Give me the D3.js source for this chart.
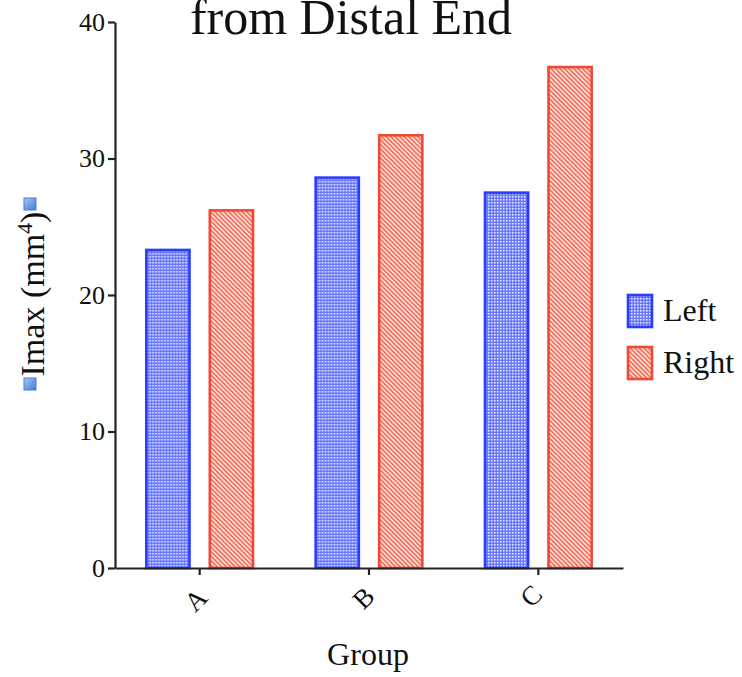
<!DOCTYPE html>
<html>
<head>
<meta charset="utf-8">
<script src="https://cdn.jsdelivr.net/npm/d3@7"></script>
<style>
  body { margin: 0; background: #fff; }
  text { font-family: "Liberation Serif", "Times New Roman", serif; fill: #111; }
</style>
</head>
<body>
<svg id="chart" width="742" height="677"></svg>
<script>
// data
var groups = ["A", "B", "C"];
var sides = ["Left", "Right"];
var leftValues = [23.3, 28.6, 27.5];
var rightValues = [26.2, 31.7, 36.7];
var yTicks = [0, 10, 20, 30, 40];

//margins / plot area
var margin = {top: 22, right: 119, bottom: 109, left: 115},
  width = 742 - margin.left - margin.right,
  height = 677 - margin.top - margin.bottom;

var svg = d3.select("#chart");
var defs = svg.append("defs");

// dotted blue fill
var dots = defs.append("pattern")
  .attr("id", "dots")
  .attr("width", 3).attr("height", 3)
  .attr("patternUnits", "userSpaceOnUse");
dots.append("rect").attr("width", 3).attr("height", 3).attr("fill", "#6a78ff");
dots.append("rect").attr("width", 1.5).attr("height", 1.5).attr("fill", "#eef0ff");

// hatched red fill
var hatch = defs.append("pattern")
  .attr("id", "hatch")
  .attr("width", 3.2).attr("height", 10)
  .attr("patternUnits", "userSpaceOnUse")
  .attr("patternTransform", "rotate(-45)");
hatch.append("rect").attr("width", 3.2).attr("height", 10).attr("fill", "#fde3dc");
hatch.append("rect").attr("width", 1.7).attr("height", 10).attr("fill", "#f2725f");

var fills = {Left: "url(#dots)", Right: "url(#hatch)"};
var strokes = {Left: "#2b3dfa", Right: "#ef4a36"};

var data = groups.map(function(g, i) {
  return {group: g, values: [{side: "Left", v: leftValues[i]}, {side: "Right", v: rightValues[i]}]};
});

var g = svg.append("g").attr("transform", "translate(" + margin.left + "," + margin.top + ")");

var x0 = d3.scaleBand().domain(groups).range([0, width]).paddingInner(0.37).paddingOuter(0.185);
var x1 = d3.scaleBand().domain(sides).range([0, x0.bandwidth()]).paddingInner(0.32);
var y = d3.scaleLinear().domain([0, 40]).range([height, 0]);

// bars
g.selectAll(".grp")
  .data(data)
  .enter().append("g")
  .attr("class", "grp")
  .attr("transform", function(d) { return "translate(" + x0(d.group) + ",0)"; })
  .selectAll("rect")
  .data(function(d) { return d.values; })
  .enter().append("rect")
  .attr("x", function(d) { return x1(d.side); })
  .attr("width", x1.bandwidth())
  .attr("y", function(d) { return y(d.v); })
  .attr("height", function(d) { return height - y(d.v); })
  .attr("fill", function(d) { return fills[d.side]; })
  .attr("stroke", function(d) { return strokes[d.side]; })
  .attr("stroke-width", 2.6);

// y axis
var yAxis = g.append("g")
  .call(d3.axisLeft(y).tickValues(yTicks).tickSize(7).tickSizeOuter(0).tickPadding(3));
yAxis.select(".domain").attr("stroke", "#222").attr("stroke-width", 2.2);
yAxis.selectAll(".tick line").attr("stroke", "#222").attr("stroke-width", 2.2);
yAxis.selectAll("text").style("font-size", "26px").style("font-family", "Liberation Serif, serif").attr("fill", "#111");

// x axis
var xAxis = g.append("g")
  .attr("transform", "translate(0," + height + ")")
  .call(d3.axisBottom(x0).tickSize(7).tickSizeOuter(0).tickFormat(""));
xAxis.select(".domain").attr("stroke", "#222").attr("stroke-width", 2.2);
xAxis.selectAll(".tick line").attr("stroke", "#222").attr("stroke-width", 2.2);

// rotated group labels
g.selectAll(".xlab")
  .data(groups)
  .enter().append("text")
  .attr("class", "xlab")
  .attr("transform", function(d, i) { return "translate(" + (x0(d) + x0.bandwidth() / 2 - 4 - i * 1.5) + "," + (height + 32 - i * 2) + ") rotate(-45)"; })
  .attr("text-anchor", "middle")
  .attr("dominant-baseline", "central")
  .style("font-size", "27px")
  .text(function(d) { return d; });

// axis titles
svg.append("text")
  .attr("x", margin.left + width / 2 - 1)
  .attr("y", 665)
  .attr("text-anchor", "middle")
  .style("font-size", "32px")
  .text("Group");

var ylab = svg.append("text")
  .attr("transform", "translate(44,294) rotate(-90)")
  .attr("text-anchor", "middle")
  .style("font-size", "34px");
ylab.append("tspan").text("Imax (mm");
ylab.append("tspan").attr("dy", -12).style("font-size", "22px").text("4");
ylab.append("tspan").attr("dy", 12).text(")");

// little blue handles at both ends of the y title
var handle = defs.append("linearGradient").attr("id", "handle")
  .attr("x1", 0).attr("y1", 0).attr("x2", 1).attr("y2", 1);
handle.append("stop").attr("offset", 0).attr("stop-color", "#a9c8f5");
handle.append("stop").attr("offset", 1).attr("stop-color", "#3f78d8");
svg.selectAll(".handle")
  .data([198, 378])
  .enter().append("rect")
  .attr("class", "handle")
  .attr("x", 24).attr("y", function(d) { return d; })
  .attr("width", 12).attr("height", 12)
  .attr("fill", "url(#handle)")
  .attr("stroke", "#4a7fd6").attr("stroke-width", 1);

// title (upper line is cut off)
svg.append("text")
  .attr("x", 351)
  .attr("y", 34)
  .attr("text-anchor", "middle")
  .style("font-size", "50px")
  .text("from Distal End");

// legend
var legend = svg.selectAll(".legend")
  .data(sides)
  .enter().append("g")
  .attr("class", "legend")
  .attr("transform", function(d, i) { return "translate(628," + (295 + i * 52) + ")"; });
legend.append("rect")
  .attr("width", 24).attr("height", 32)
  .attr("fill", function(d) { return fills[d]; })
  .attr("stroke", function(d) { return strokes[d]; })
  .attr("stroke-width", 2.6);
legend.append("text")
  .attr("x", 35).attr("y", 26)
  .style("font-size", "32px")
  .text(function(d) { return d; });
</script>
</body>
</html>
